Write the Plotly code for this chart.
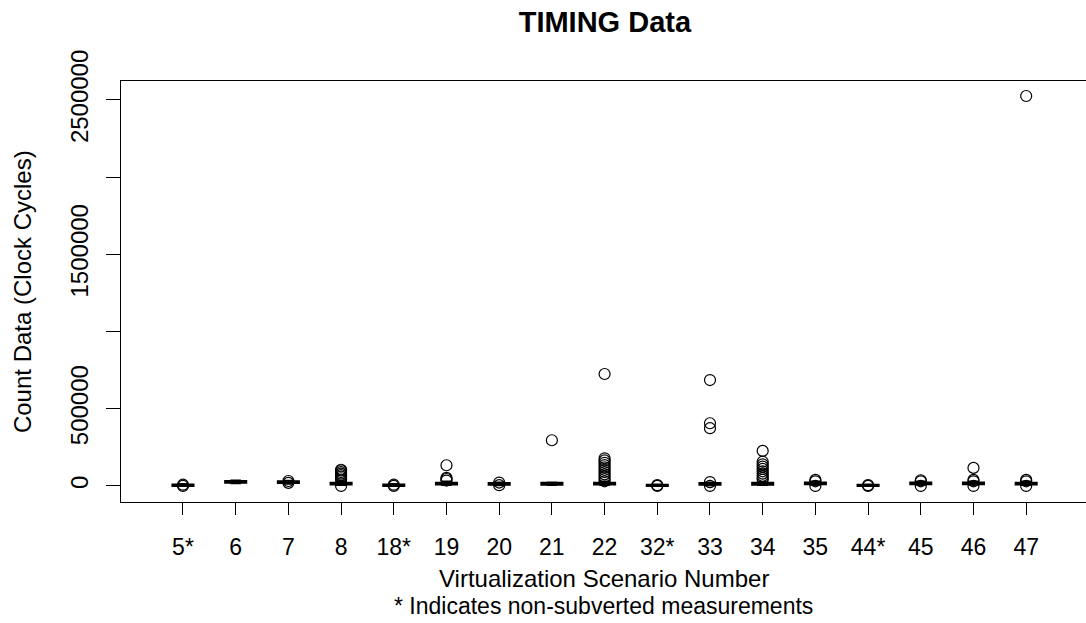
import plotly.graph_objects as go

categories = ["5*", "6", "7", "8", "18*", "19", "20", "21", "22", "32*",
              "33", "34", "35", "44*", "45", "46", "47"]
q1 = [0, 20000, 19000, 9000, 0, 9000, 7000, 8000, 9000, 0,
      7000, 8000, 11000, 0, 11000, 11000, 9000]
median = [5000, 26000, 25000, 15000, 5000, 15000, 13000, 14000, 15000, 3000,
          13000, 14000, 17000, 3000, 17000, 17000, 15000]
q3 = [10000, 32000, 31000, 21000, 10000, 21000, 19000, 20000, 21000, 7000,
      19000, 20000, 23000, 7000, 23000, 23000, 21000]
lower = [0, 17000, 15000, 6000, 0, 6000, 5000, 6000, 6000, 0,
         5000, 6000, 8000, 0, 8000, 8000, 6000]
upper = [13000, 35000, 34000, 28000, 13000, 28000, 22000, 23000, 28000, 9000,
         22000, 25000, 28000, 9000, 28000, 28000, 28000]
outliers = [
    [0, 8000],
    [],
    [20000, 32000],
    [0, 40000, 50000, 60000, 70000, 80000, 90000, 100000, 105000],
    [0, 8000],
    [35000, 45000, 52000, 134000],
    [5000, 22000],
    [296000],
    [30000, 45000, 60000, 75000, 90000, 105000, 120000, 135000, 150000,
     165000, 179000, 725000],
    [0, 5000],
    [0, 25000, 374000, 406000, 686000],
    [40000, 52000, 65000, 80000, 95000, 110000, 125000, 140000, 157000, 227000],
    [0, 30000, 39000],
    [0, 5000],
    [0, 30000, 37000],
    [0, 30000, 39000, 117000],
    [0, 30000, 39000, 2526000],
]
y_tickvals = [0, 500000, 1000000, 1500000, 2000000, 2500000]
y_ticktext = ["0", "500000", "", "1500000", "", "2500000"]

FONT = "Liberation Sans, Arial, sans-serif"

fig = go.Figure()
fig.add_trace(go.Box(
    x=categories, q1=q1, median=median, q3=q3,
    lowerfence=lower, upperfence=upper,
    boxpoints=False, width=0.4, whiskerwidth=0.5,
    line=dict(color="black", width=2), fillcolor="black",
    showlegend=False, hoverinfo="skip",
))
ox, oy = [], []
for c, vals in zip(categories, outliers):
    for v in vals:
        ox.append(c)
        oy.append(v)
fig.add_trace(go.Scatter(
    x=ox, y=oy, mode="markers",
    marker=dict(symbol="circle-open", size=11, color="black",
                line=dict(width=1.2, color="black")),
    showlegend=False, hoverinfo="skip",
))

fig.update_layout(
    width=1086, height=623,
    margin=dict(l=121, r=0, t=81, b=121),
    plot_bgcolor="white", paper_bgcolor="white",
    font=dict(family=FONT, color="black", size=24),
    title=dict(text="<b>TIMING Data</b>", x=0.557, xanchor="center",
               y=0.965, yanchor="middle", font=dict(size=29, family=FONT)),
    xaxis=dict(
        type="category", categoryorder="array", categoryarray=categories,
        range=[-1.176, 17.135], showline=True, linecolor="black", linewidth=1,
        mirror=True, ticks="outside", ticklen=12, tickcolor="black",
        tickfont=dict(size=23), ticklabelstandoff=12, showgrid=False,
        zeroline=False,
    ),
    yaxis=dict(
        range=[-104000, 2623000], tickvals=y_tickvals, ticktext=y_ticktext,
        tickangle=-90, showline=True, linecolor="black", linewidth=1,
        mirror=True, ticks="outside", ticklen=14, tickcolor="black",
        tickfont=dict(size=24), ticklabelstandoff=8, showgrid=False,
        zeroline=False,
    ),
    annotations=[
        dict(text="Virtualization Scenario Number", xref="paper", yref="paper",
             x=0.5, y=-0.181, xanchor="center", yanchor="middle",
             showarrow=False, font=dict(size=24)),
        dict(text="* Indicates non-subverted measurements", xref="paper",
             yref="paper", x=0.5, y=-0.248, xanchor="center",
             yanchor="middle", showarrow=False, font=dict(size=23)),
        dict(text="Count Data (Clock Cycles)", xref="paper", yref="paper",
             x=-0.102, y=0.5, xanchor="center", yanchor="middle",
             textangle=-90, showarrow=False, font=dict(size=24)),
    ],
)

fig.write_html("out.html")
